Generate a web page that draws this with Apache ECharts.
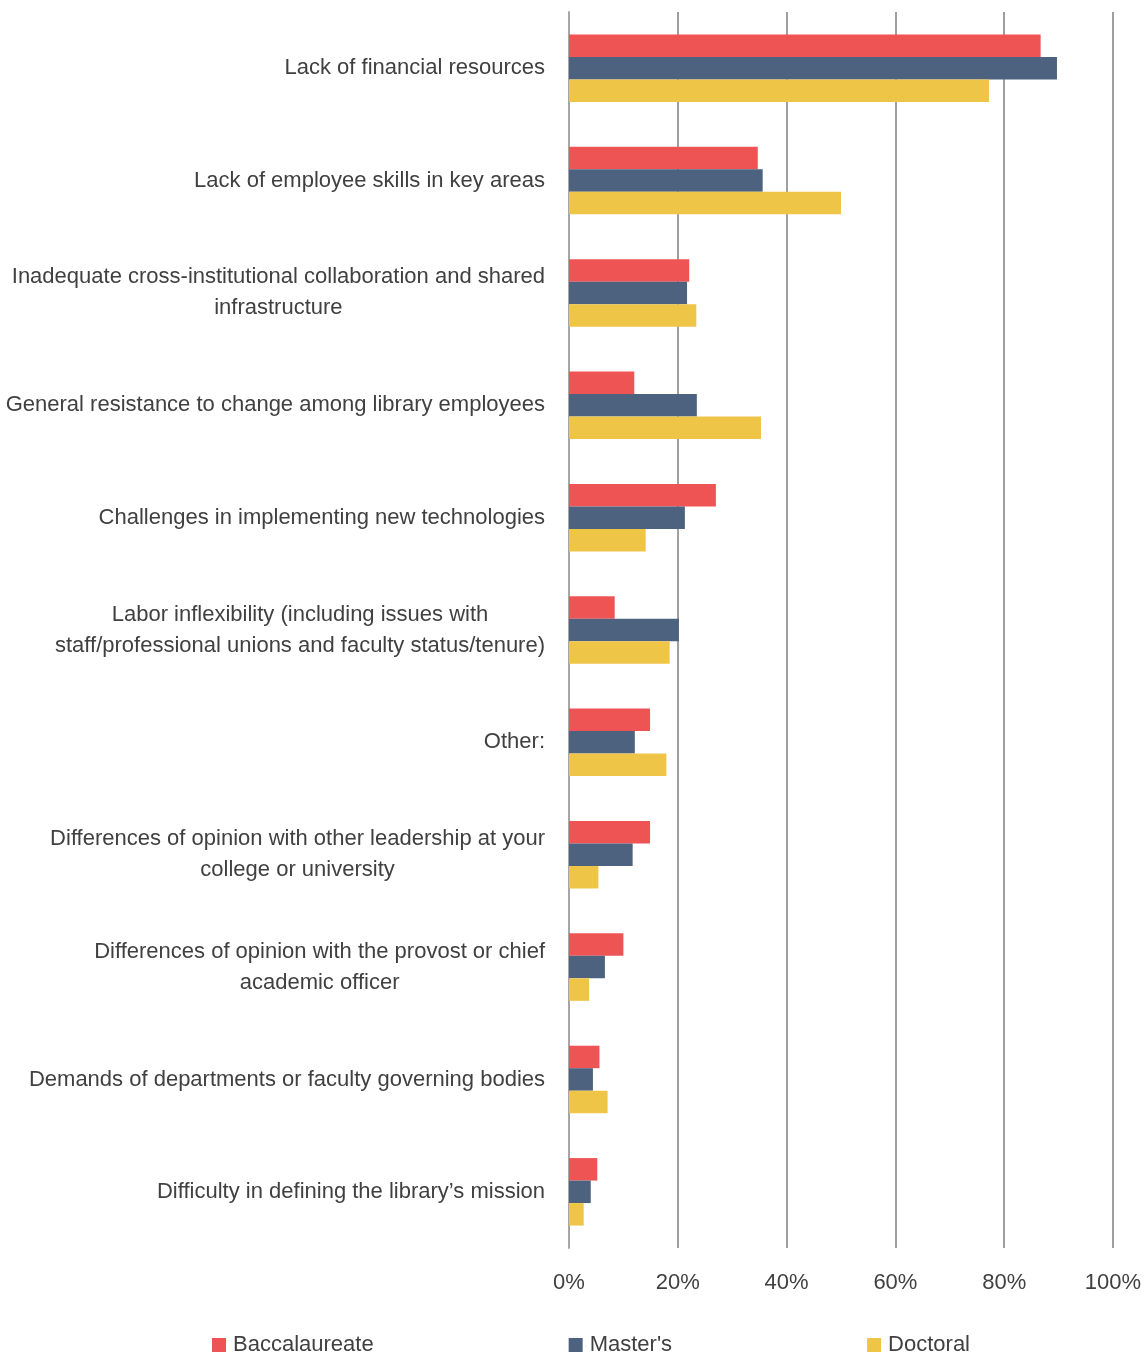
<!DOCTYPE html>
<html>
<head>
<meta charset="utf-8">
<script src="https://cdn.jsdelivr.net/npm/echarts@6/dist/echarts.min.js"></script>
<style>html,body{margin:0;padding:0;background:#fff}#c{width:1148px;height:1357px}</style>
</head>
<body>
<div id="c"></div>
<script>
const categories = [
  "Lack of financial resources",
  "Lack of employee skills in key areas",
  "Inadequate cross-institutional collaboration and shared\ninfrastructure",
  "General resistance to change among library employees",
  "Challenges in implementing new technologies",
  "Labor inflexibility (including issues with\nstaff/professional unions and faculty status/tenure)",
  "Other:",
  "Differences of opinion with other leadership at your\ncollege or university",
  "Differences of opinion with the provost or chief\nacademic officer",
  "Demands of departments or faculty governing bodies",
  "Difficulty in defining the library\u2019s mission"
];
const seriesNames = ["Baccalaureate", "Master's", "Doctoral"];
const baccalaureate = [86.7, 34.7, 22.1, 12.0, 27.0, 8.4, 14.9, 14.9, 10.0, 5.6, 5.2];
const masters = [89.7, 35.6, 21.7, 23.5, 21.3, 20.2, 12.1, 11.7, 6.6, 4.4, 4.0];
const doctoral = [77.2, 50.0, 23.4, 35.3, 14.1, 18.5, 17.9, 5.4, 3.7, 7.1, 2.7];
const xTicks = [0, 20, 40, 60, 80, 100];

const FONT = "'Liberation Sans Narrow', 'Arial Narrow', 'Liberation Sans', sans-serif";
const TXT = '#404040';
const colors = ['#EF5454', '#4D627E', '#EFC547'];

const chart = echarts.init(document.getElementById('c'), null, {renderer: 'canvas'});
const values = [baccalaureate, masters, doctoral];
chart.setOption({
  animation: false,
  backgroundColor: '#fff',
  color: colors,
  grid: {left: 569, right: 35, top: 12, bottom: 109, containLabel: false, outerBoundsMode: 'none'},
  legend: {
    top: 1329, left: 207,
    itemWidth: 14, itemHeight: 14, itemGap: 195,
    icon: 'rect',
    textStyle: {fontFamily: FONT, fontSize: 22, color: TXT, padding: [0,0,0,2]},
    data: seriesNames
  },
  xAxis: {
    type: 'value', min: xTicks[0], max: xTicks[xTicks.length-1], interval: 20,
    axisLine: {show: false}, axisTick: {show: false},
    axisLabel: {formatter: v => v + '%', fontFamily: FONT, fontSize: 22, color: TXT, margin: 24},
    splitLine: {lineStyle: {color: '#7f7f7f', width: 1.5}}
  },
  yAxis: {
    type: 'category', inverse: true, data: categories,
    axisLine: {show: true, lineStyle: {color: '#a6a6a6', width: 2}},
    axisTick: {show: false},
    axisLabel: {
      margin: 24,
      formatter: v => v.split('\n').map(s => '{c|' + s + '}').join('\n'),
      rich: {c: {fontFamily: FONT, fontSize: 22, color: TXT, align: 'center', lineHeight: 31}}
    }
  },
  series: seriesNames.map((n, i) => ({
    name: n, type: 'bar', data: values[i],
    barWidth: 22.5, barGap: '0%',
    itemStyle: {color: colors[i]}
  }))
});
</script>
</body>
</html>
